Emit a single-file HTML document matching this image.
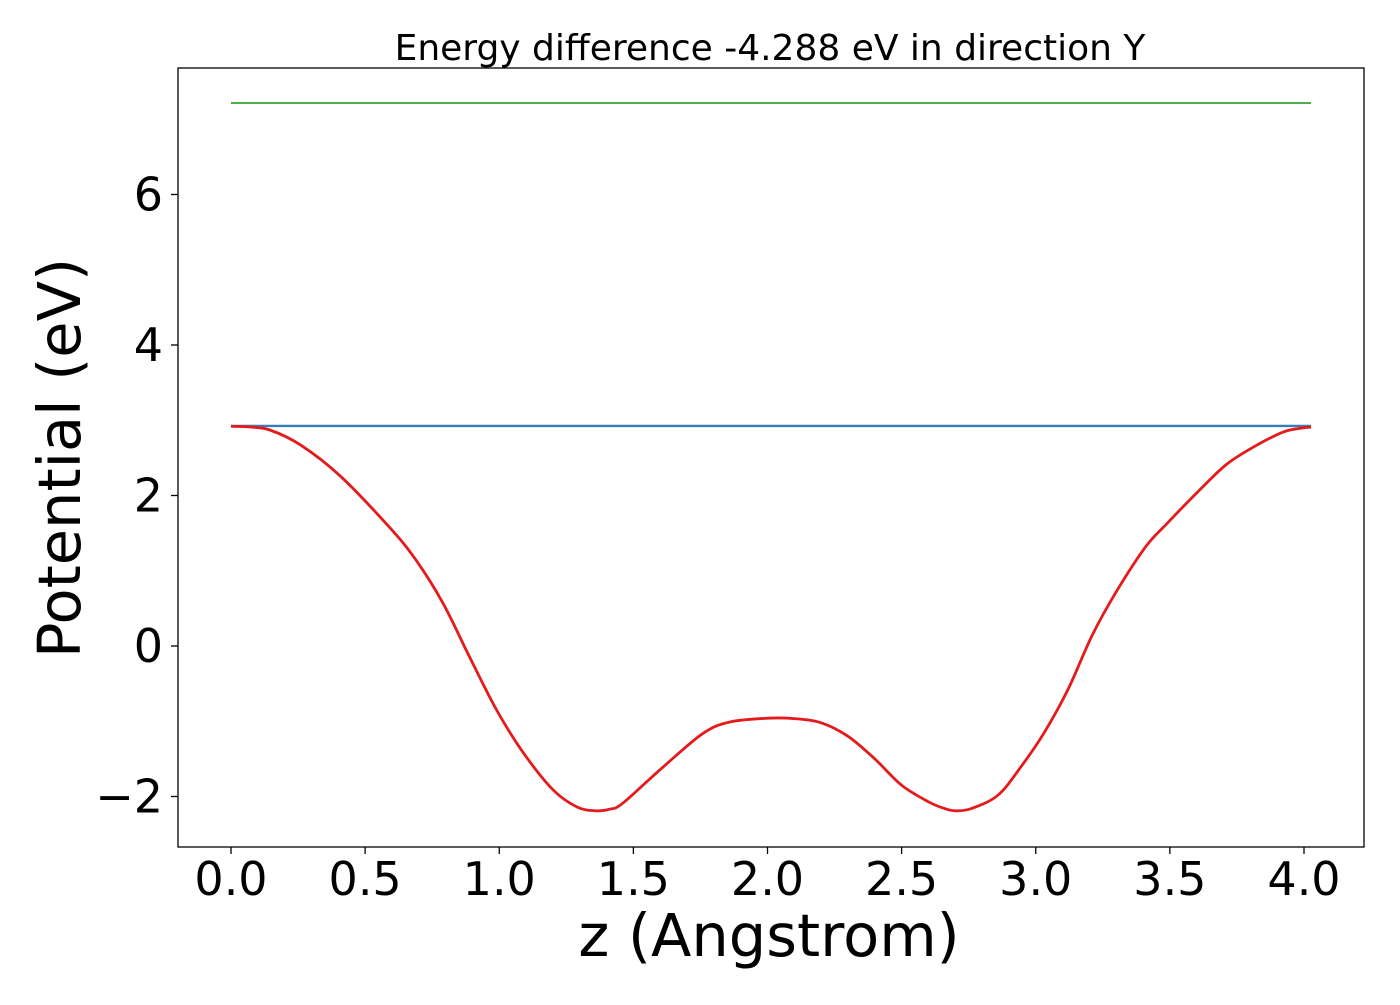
<!DOCTYPE html>
<html><head><meta charset="utf-8"><style>
html,body{margin:0;padding:0;background:#fff;}
svg text{font-family:"DejaVu Sans","Liberation Sans",sans-serif;fill:#000;}
</style></head><body>
<svg id="chart" width="1400" height="1000" xmlns="http://www.w3.org/2000/svg">
<text x="770" y="60" font-size="36" text-anchor="middle">Energy difference -4.288 eV in direction Y</text>
<g id="plot"></g>
<rect x="178" y="68" width="1186" height="779" fill="none" stroke="#000" stroke-width="1.3"/>
<g id="xticks"></g>
<g id="yticks"></g>
<text x="769" y="956" font-size="59" text-anchor="middle">z (Angstrom)</text>
<text transform="translate(80,458) rotate(-90)" font-size="59" text-anchor="middle">Potential (eV)</text>
</svg>
<script>
const redX = [0,0.07,0.145,0.26,0.41,0.59,0.69,0.79,0.89,0.99,1.09,1.20,1.29,1.36,1.41,1.46,1.61,1.76,1.86,2.0,2.1,2.2,2.3,2.4,2.5,2.6,2.66,2.70,2.76,2.86,2.95,3.03,3.12,3.21,3.30,3.41,3.49,3.61,3.71,3.81,3.92,3.98,4.026];
const redY = [2.92,2.91,2.87,2.67,2.25,1.58,1.14,0.57,-0.15,-0.85,-1.42,-1.91,-2.14,-2.19,-2.17,-2.09,-1.61,-1.16,-1.01,-0.96,-0.965,-1.02,-1.2,-1.5,-1.85,-2.07,-2.16,-2.19,-2.16,-1.98,-1.58,-1.16,-0.58,0.14,0.72,1.32,1.63,2.07,2.41,2.64,2.84,2.89,2.91];
const greenLevel = [7.216];
const blueLevel = [2.924];
const levelRange = [0, 4.026];
const xTicks = [0,0.5,1,1.5,2,2.5,3,3.5,4];
const xTickLabels = ["0.0","0.5","1.0","1.5","2.0","2.5","3.0","3.5","4.0"];
const yTicks = [-2,0,2,4,6];
const yTickLabels = ["\u22122","0","2","4","6"];

const sx = v => 231 + v*268.25;
const sy = v => 646 - v*75.25;
const NS = "http://www.w3.org/2000/svg";
const plot = document.getElementById('plot');
function line(x1,y1,x2,y2,color,w,name,parent){
  const l=document.createElementNS(NS,'line');
  l.setAttribute('x1',x1);l.setAttribute('y1',y1);l.setAttribute('x2',x2);l.setAttribute('y2',y2);
  l.setAttribute('stroke',color);l.setAttribute('stroke-width',w);
  
  
  parent.appendChild(l);return l;
}
line(sx(levelRange[0]),sy(greenLevel[0]),sx(levelRange[1]),sy(greenLevel[0]),'#4daf4a',2,'green-level-line',plot);
line(sx(levelRange[0]),sy(blueLevel[0]),sx(levelRange[1]),sy(blueLevel[0]),'#377eb8',2.4,'blue-level-line',plot);
const pts=redX.map((x,i)=>[sx(x),sy(redY[i])]);
let d='M'+pts[0][0].toFixed(1)+','+pts[0][1].toFixed(1);
for(let i=0;i<pts.length-1;i++){
  const p0=pts[Math.max(0,i-1)],p1=pts[i],p2=pts[i+1],p3=pts[Math.min(pts.length-1,i+2)];
  const c1=[p1[0]+(p2[0]-p0[0])/6,p1[1]+(p2[1]-p0[1])/6];
  const c2=[p2[0]-(p3[0]-p1[0])/6,p2[1]-(p3[1]-p1[1])/6];
  d+='C'+c1.map(v=>v.toFixed(1)).join(',')+' '+c2.map(v=>v.toFixed(1)).join(',')+' '+p2.map(v=>v.toFixed(1)).join(',');
}
const p=document.createElementNS(NS,'path');
p.setAttribute('d',d);
p.setAttribute('fill','none');p.setAttribute('stroke','#e41a1c');p.setAttribute('stroke-width','2.8');p.setAttribute('stroke-linejoin','round');


plot.appendChild(p);
const xg=document.getElementById('xticks');
xTicks.forEach((v,i)=>{
  line(sx(v),847,sx(v),854,'#000',1.3,'x-tick',xg);
  const t=document.createElementNS(NS,'text');
  t.setAttribute('x',sx(v));t.setAttribute('y',895);t.setAttribute('font-size','46');t.setAttribute('text-anchor','middle');
  t.textContent=xTickLabels[i];
  
  
  xg.appendChild(t);
});
const yg=document.getElementById('yticks');
yTicks.forEach((v,i)=>{
  line(171,sy(v),178,sy(v),'#000',1.3,'y-tick',yg);
  const t=document.createElementNS(NS,'text');
  t.setAttribute('x',163);t.setAttribute('y',sy(v)+16);t.setAttribute('font-size','46');t.setAttribute('text-anchor','end');
  t.textContent=yTickLabels[i];
  
  
  yg.appendChild(t);
});
</script>
</body></html>
